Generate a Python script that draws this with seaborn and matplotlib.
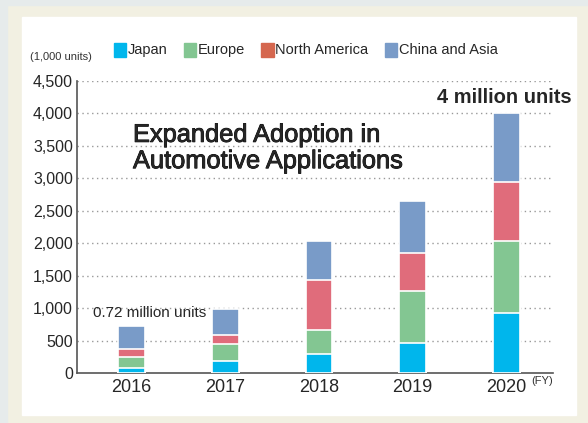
import numpy as np
import pandas as pd
import matplotlib
matplotlib.use("Agg")
import matplotlib.pyplot as plt
import matplotlib.patches as mpatches
import matplotlib.patheffects as pe
import seaborn as sns

# values (1,000 units)
years = ["2016", "2017", "2018", "2019", "2020"]
japan = [80, 190, 290, 470, 920]
europe = [160, 250, 370, 800, 1120]
north_america = [130, 150, 770, 580, 900]
china_asia = [350, 390, 600, 800, 1060]
regions = ["Japan", "Europe", "North America", "China and Asia"]
y_ticks = [0, 500, 1000, 1500, 2000, 2500, 3000, 3500, 4000, 4500]

bar_colors = ["#00b6ec", "#83c692", "#e06c7b", "#799bc8"]
legend_colors = ["#00b6ec", "#83c692", "#d5674f", "#799bc8"]

sns.set_style("white")
plt.rcParams["font.family"] = ["Liberation Sans", "DejaVu Sans"]

df = pd.DataFrame({"year": years, "Japan": japan, "Europe": europe,
                   "North America": north_america, "China and Asia": china_asia})
cum = df[regions].cumsum(axis=1)

fig = plt.figure(figsize=(5.88, 4.23), dpi=100)
fig.patch.set_facecolor("#f2f0e2")
# outer grey strips and white panel
fig.patches.append(mpatches.Rectangle((0, 0), 7 / 588, 1, transform=fig.transFigure,
                                      color="#e6ebeb", zorder=-10))
fig.patches.append(mpatches.Rectangle((0, 1 - 5 / 423), 1, 5 / 423, transform=fig.transFigure,
                                      color="#e6ebeb", zorder=-10))
fig.patches.append(mpatches.Rectangle((22 / 588, 1 - 415 / 423), (576 - 22) / 588, (415 - 17) / 423,
                                      transform=fig.transFigure, color="white", zorder=-9))

ax = fig.add_axes([77 / 588, 1 - 373 / 423, (553 - 77) / 588, (373 - 81) / 423])
ax.set_facecolor("white")
ax.set_zorder(2)

# stacked bars: draw the cumulative layers from the top down
for reg, col in zip(regions[::-1], bar_colors[::-1]):
    sns.barplot(x=df["year"], y=cum[reg], color=col, width=0.285, saturation=1,
                edgecolor="white", linewidth=1.2, ax=ax, zorder=3)

ax.set_ylim(0, 4500)
ax.set_xlim(-0.584, 4.5)
ax.set_yticks(y_ticks)
ax.set_yticklabels([f"{v:,}" for v in y_ticks], fontsize=11.5)
ax.tick_params(axis="x", labelsize=13, length=0, pad=4)
ax.tick_params(axis="y", length=0, pad=3)
ax.set_xlabel("")
ax.set_ylabel("")
for t in y_ticks[1:]:
    ax.axhline(t, color="#999999", linestyle=(0, (1, 2.5)), linewidth=1, zorder=1)
for s in ["top", "right"]:
    ax.spines[s].set_visible(False)
ax.spines["left"].set_color("#555555")
ax.spines["bottom"].set_color("#555555")
ax.spines["left"].set_linewidth(1.2)
ax.spines["bottom"].set_linewidth(1.2)

ax.text(0.195, 925, "0.72 million units", fontsize=11, ha="center", va="center", zorder=5)
ax.text(3.98, 4253, "4 million units", fontsize=14.5, fontweight="bold",
        ha="center", va="center", zorder=5)
ax.text(0.014, 3080, "Expanded Adoption in\nAutomotive Applications", fontsize=18.3,
        ha="left", va="bottom", linespacing=1.12, zorder=5,
        path_effects=[pe.withStroke(linewidth=0.6, foreground="black")])

fig.text(30 / 588, 1 - 57 / 423, "(1,000 units)", fontsize=8, va="center", color="#333333")
fig.text(531 / 588, 1 - 381 / 423, "(FY)", fontsize=8, va="center", color="#333333")

handles = [mpatches.Patch(color=c, label=r) for c, r in zip(legend_colors, regions)]
fig.legend(handles=handles, loc="center left", bbox_to_anchor=(114 / 588, 1 - 50 / 423),
           ncol=4, frameon=False, fontsize=10.5, handlelength=0.85, handleheight=1.1,
           handletextpad=0.1, columnspacing=1.12, borderaxespad=0, borderpad=0)

fig.savefig("out.png", dpi=100, facecolor=fig.get_facecolor())
